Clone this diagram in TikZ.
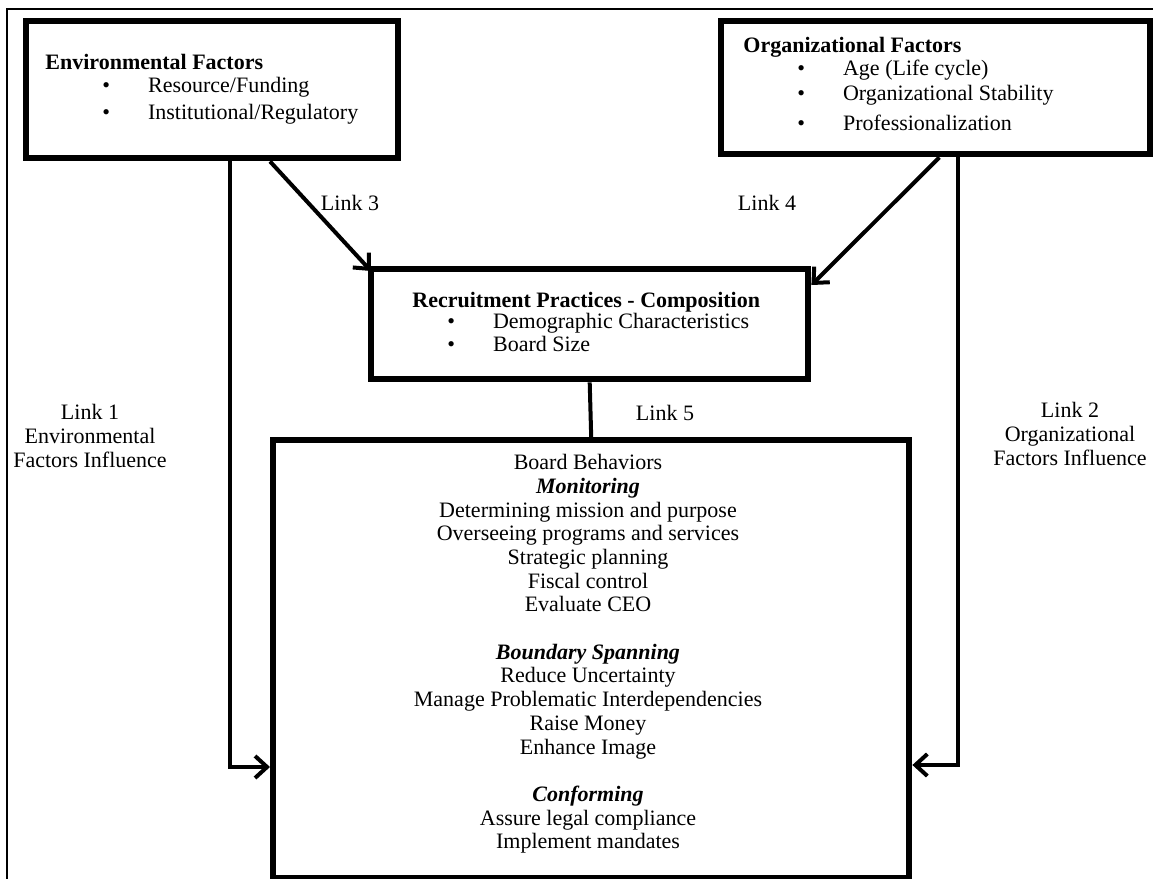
\documentclass[tikz,border=0pt]{standalone}
\usepackage{fontspec}
\setmainfont{Liberation Serif}
\usetikzlibrary{positioning, arrows.meta}
\tikzset{
    x=0.5pt, y=-0.5pt, % one unit is one pixel of the scan, y runs downwards
    >={Straight Barb[length=6pt, width=11pt]}, % open arrow heads
    every node/.style={font=\fontsize{11}{11.85}\selectfont, inner sep=0pt},
    factorbox/.style={draw, line width=3.2pt, anchor=north west}, % the thick frames
    boxtitle/.style={anchor=west, font=\fontsize{11}{11.85}\selectfont\bfseries},
    boxitem/.style={anchor=west},
    link/.style={draw, line width=2pt}, % the connectors
    linklabel/.style={align=center}, % text beside a link
}
\newcommand{\bitem}[1]{\textbullet\hspace{19pt}#1}

\begin{document}
\begin{tikzpicture}
    \useasboundingbox (0,0) rectangle (1153,879);
    % outer frame, open at the right and bottom
    \draw[line width=1pt] (1153,9) -- (7,9) -- (7,879);

    % the four boxes
    \node[factorbox, minimum width=186pt, minimum height=68.5pt] (env) at (23,18) {};
    \node[factorbox, minimum width=214.5pt, minimum height=66.5pt] (org) at (718,18) {};
    \node[factorbox, minimum width=218.5pt, minimum height=55pt] (rec) at (368,266) {};
    \node[factorbox, minimum width=318pt, minimum height=219pt] (board) at (270,437) {};

    % box texts
    \node[boxtitle] (envttl) at (45,62) {Environmental Factors};
    \node[boxitem] (env1) at (102,87) {\bitem{Resource/Funding}};
    \node[boxitem] (env2) at (102,114) {\bitem{Institutional/Regulatory}};

    \node[boxtitle] (orgttl) at (743,47) {Organizational Factors};
    \node[boxitem] (org1) at (797,70) {\bitem{Age (Life cycle)}};
    \node[boxitem] (org2) at (797,95) {\bitem{Organizational Stability}};
    \node[boxitem] (org3) at (797,123) {\bitem{Professionalization}};

    \node[boxtitle] (recttl) at (412,302) {Recruitment Practices - Composition};
    \node[boxitem] (rec1) at (447,323) {\bitem{Demographic Characteristics}};
    \node[boxitem] (rec2) at (447,344) {\bitem{Board Size}};

    \node[anchor=north, align=center] (behav) at (588,454) {%
        Board Behaviors\\
        \textbf{\textit{Monitoring}}\\
        Determining mission and purpose\\
        Overseeing programs and services\\
        Strategic planning\\
        Fiscal control\\
        Evaluate CEO\\[11.85pt]
        \textbf{\textit{Boundary Spanning}}\\
        Reduce Uncertainty\\
        Manage Problematic Interdependencies\\
        Raise Money\\
        Enhance Image\\[11.85pt]
        \textbf{\textit{Conforming}}\\
        Assure legal compliance\\
        Implement mandates};

    % links
    \coordinate (l1) at (230,767);
    \coordinate (l2) at (958,765);
    \draw[link, ->] (env.south -| l1) -- (l1) -- (board.west |- l1);
    \draw[link, ->] (org.south -| l2) -- (l2) -- (board.east |- l2);
    \draw[link, ->] ([xshift=123.5pt]env.south west) -- ([shift={(3,5)}]rec.north west);
    \draw[link, ->] ([xshift=-107pt]org.south east) -- ([shift={(0,19)}]rec.north east);
    \draw[link] (rec.south) -- (board.north);

    % link labels
    \node[linklabel] (lab3) at (350,203) {Link 3};
    \node[linklabel] (lab4) at (767,203) {Link 4};
    \node[linklabel] (lab5) at (665,413) {Link 5};
    \node[linklabel] (lab1) at (90,436) {Link 1\\ Environmental\\ Factors Influence};
    \node[linklabel] (lab2) at (1070,434) {Link 2\\ Organizational\\ Factors Influence};
\end{tikzpicture}
\end{document}
